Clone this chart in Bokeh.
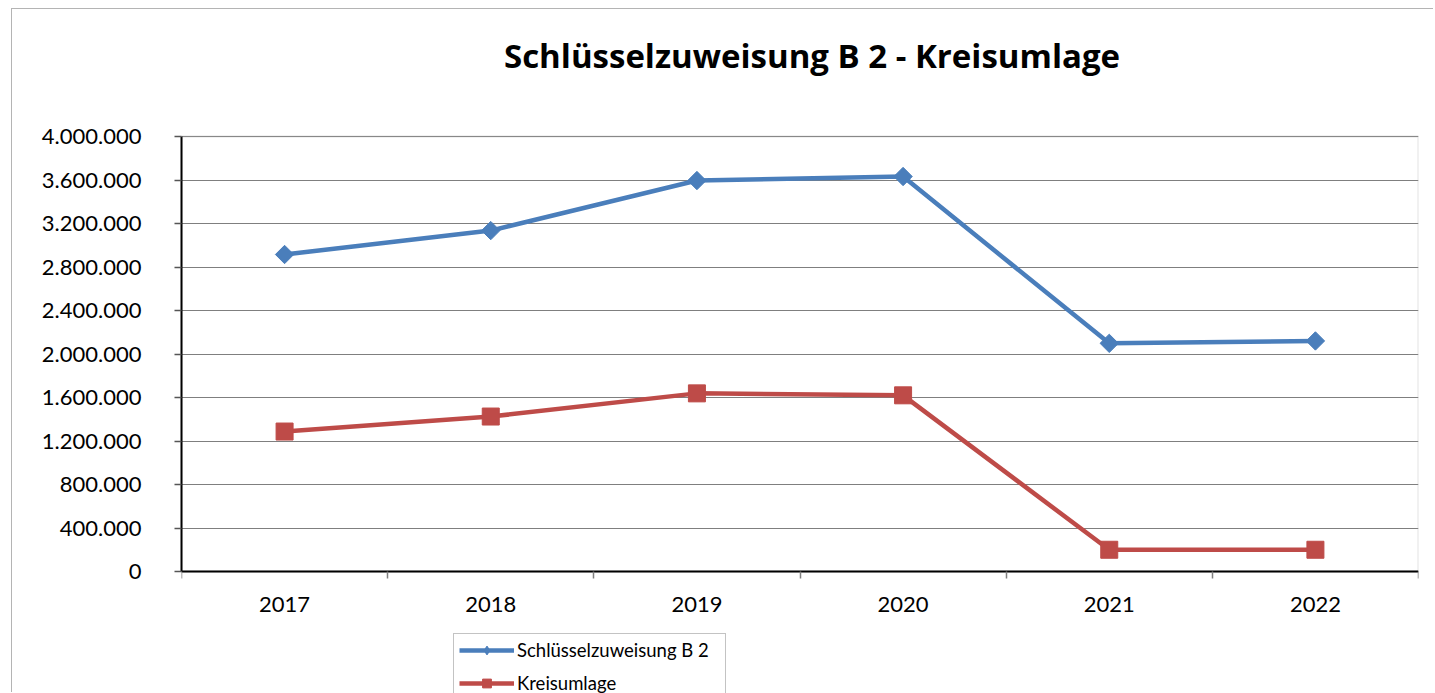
import math
from bokeh.plotting import figure
from bokeh.models import (FixedTicker, CustomJSTickFormatter, Legend, LegendItem, Range1d,
                          BoxAnnotation, Label)
from bokeh.embed import file_html
from bokeh.resources import INLINE

# ---- data ----
years = ["2017", "2018", "2019", "2020", "2021", "2022"]
schluesselzuweisung = [2915000, 3135000, 3595000, 3632000, 2098000, 2120000]
kreisumlage = [1287000, 1425000, 1638000, 1620000, 200000, 200000]
y_ticks = [0, 400000, 800000, 1200000, 1600000, 2000000, 2400000, 2800000,
           3200000, 3600000, 4000000]
title_text = "Schlüsselzuweisung B 2 - Kreisumlage"
series_names = ["Schlüsselzuweisung B 2", "Kreisumlage"]

# ---- layout constants (pixels) ----
FIG_W, FIG_H = 1422, 684
FIG_TOP = 9              # screen y of the canvas top
AREA_TOP, AREA_BOTTOM = 136, 571   # screen y of 4.000.000 and 0
Y_MAX = 4000000
PX_PER_UNIT = (AREA_BOTTOM - AREA_TOP) / Y_MAX
Y_START = -(FIG_TOP + FIG_H - AREA_BOTTOM) / PX_PER_UNIT
Y_END = Y_MAX + (AREA_TOP - FIG_TOP) / PX_PER_UNIT
AREA_LEFT, AREA_RIGHT = 181, 1418
X_PX = (AREA_RIGHT - AREA_LEFT) / len(years)

FONT = "Lato"
BLUE = "#4a7ebb"
RED = "#be4b48"

xs = [i + 0.5 for i in range(len(years))]

p = figure(width=FIG_W, height=FIG_H, output_backend="svg", toolbar_location=None,
           x_range=Range1d(0, len(years)), y_range=Range1d(Y_START, Y_END),
           min_border_left=169, min_border_right=16, min_border_top=0,
           min_border_bottom=0)
p.styles = {"margin-left": "11px", "margin-top": "8px",
            "border-left": "1px solid #b4b4b4", "border-top": "1px solid #b4b4b4"}

p.background_fill_color = "white"
p.border_fill_color = "white"
p.outline_line_color = None

# plot-area outline
p.add_layout(BoxAnnotation(left=0, right=len(years), bottom=0, top=Y_MAX,
                           fill_alpha=0, line_color="#a0a0a0", line_width=2,
                           level="underlay"))

# title
p.add_layout(Label(x=(811.5 - AREA_LEFT) / X_PX, y=(AREA_BOTTOM - 55) / PX_PER_UNIT,
                   text=title_text, text_align="center", text_baseline="middle",
                   text_font="Open Sans", text_font_size="33px", text_font_style="bold",
                   text_color="black"))

# x axis
xa = p.xaxis[0]
xa.fixed_location = 0
xa.ticker = FixedTicker(ticks=xs, minor_ticks=list(range(len(years) + 1)))
xa.formatter = CustomJSTickFormatter(args=dict(years=years),
                                     code="return years[Math.floor(tick)];")
xa.major_tick_in = 0
xa.major_tick_out = 0
xa.minor_tick_in = 0
xa.minor_tick_out = 7
xa.minor_tick_line_color = "#7f7f7f"
xa.minor_tick_line_width = 1.5
xa.axis_line_color = "black"
xa.axis_line_width = 2
xa.major_label_text_font = FONT
xa.major_label_text_font_size = "22px"
xa.major_label_text_color = "black"
xa.major_label_standoff = 18

# y axis
ya = p.yaxis[0]
ya.bounds = (0, Y_MAX)
ya.ticker = FixedTicker(ticks=y_ticks)
ya.formatter = CustomJSTickFormatter(
    code="return Math.round(tick).toString().replace(/\\B(?=(\\d{3})+(?!\\d))/g, '.');")
ya.major_tick_in = 0
ya.major_tick_out = 7
ya.minor_tick_out = 0
ya.minor_tick_in = 0
ya.major_tick_line_color = "#555555"
ya.major_tick_line_width = 1.5
ya.axis_line_color = "black"
ya.axis_line_width = 2
ya.major_label_text_font = FONT
ya.major_label_text_font_size = "22px"
ya.major_label_text_color = "black"
ya.major_label_standoff = 33

p.xgrid.visible = False
p.ygrid.ticker = FixedTicker(ticks=y_ticks)
p.ygrid.grid_line_color = "#7f7f7f"
p.ygrid.grid_line_width = 1.2

# series
l1 = p.line(xs, schluesselzuweisung, line_color=BLUE, line_width=4.5)
d1 = p.scatter(xs, schluesselzuweisung, marker="diamond", size=10,
               fill_color=BLUE, line_color=BLUE)
m1 = p.scatter(xs, schluesselzuweisung, marker="square", angle=math.pi / 4, size=13,
               fill_color=BLUE, line_color=BLUE)
l2 = p.line(xs, kreisumlage, line_color=RED, line_width=4.5)
m2 = p.scatter(xs, kreisumlage, marker="square", size=17, fill_color=RED, line_color=RED)

legend = Legend(items=[LegendItem(label=series_names[0], renderers=[l1, d1]),
                       LegendItem(label=series_names[1], renderers=[l2, m2])],
                location=(272, -7))
legend.glyph_width = 55
legend.glyph_height = 22
legend.label_text_font = FONT
legend.label_text_font_size = "18.5px"
legend.label_text_color = "black"
legend.label_standoff = 3
legend.label_width = 203
legend.padding = 5
legend.spacing = 11
legend.margin = 0
legend.border_line_color = "#888888"
legend.border_line_width = 1
legend.background_fill_color = "white"
legend.background_fill_alpha = 1.0
p.add_layout(legend)

open("out.html", "w").write(file_html(p, INLINE))
